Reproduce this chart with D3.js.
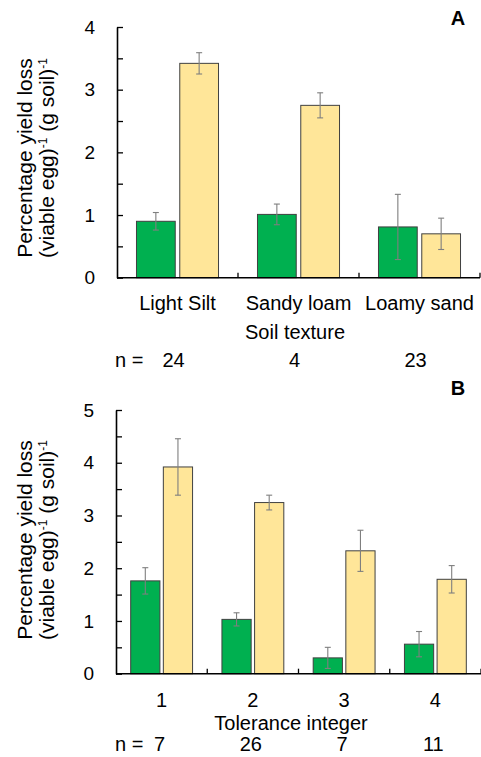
<!DOCTYPE html>
<html>
<head>
<meta charset="utf-8">
<script src="https://cdn.jsdelivr.net/npm/d3@7"></script>
<style>
  body { margin: 0; background: #fff; }
  svg { display: block; font-family: "Liberation Sans", Arial, sans-serif; }
</style>
</head>
<body>
<svg id="chart" width="481" height="757"></svg>
<script>
// Panel A - soil texture
const soilCategories = ["Light Silt", "Sandy loam", "Loamy sand"];
const soilGreen = [0.90, 1.01, 0.81];
const soilGreenErr = [0.14, 0.165, 0.52];
const soilYellow = [3.42, 2.75, 0.70];
const soilYellowErr = [0.17, 0.20, 0.25];
const soilN = [24, 4, 23];
const soilTicks = [0, 1, 2, 3, 4];

// Panel B - tolerance integer
const tolCategories = ["1", "2", "3", "4"];
const tolGreen = [1.76, 1.03, 0.30, 0.56];
const tolGreenErr = [0.25, 0.125, 0.20, 0.24];
const tolYellow = [3.92, 3.245, 2.33, 1.79];
const tolYellowErr = [0.535, 0.14, 0.39, 0.26];
const tolN = [7, 26, 7, 11];
const tolTicks = [0, 1, 2, 3, 4, 5];

const seriesNames = ["green", "yellow"];
const seriesColors = {"green": "#00B050", "yellow": "#FFE699"};

const svg = d3.select("#chart");

function drawPanel(opt) {
    const g = svg.append("g");

    const x = d3.scaleBand()
        .domain(opt.categories)
        .range([opt.left, opt.right])
        .paddingInner(0).paddingOuter(0);

    const xs = d3.scaleBand()
        .domain(seriesNames)
        .range([0, x.bandwidth()])
        .paddingInner(0.105).paddingOuter(0.45);

    const ymax = d3.max(opt.ticks);
    const y = d3.scaleLinear()
        .domain([0, ymax])
        .range([opt.bottom, opt.top]);

    // bars
    const rows = [];
    opt.categories.forEach((c, i) => {
        rows.push({cat: c, s: "green", v: opt.green[i], e: opt.greenErr[i]});
        rows.push({cat: c, s: "yellow", v: opt.yellow[i], e: opt.yellowErr[i]});
    });

    g.selectAll("rect.bar")
        .data(rows)
        .enter()
        .append("rect")
        .attr("class", "bar")
        .attr("x", d => x(d.cat) + xs(d.s))
        .attr("y", d => y(d.v))
        .attr("width", xs.bandwidth())
        .attr("height", d => y(0) - y(d.v))
        .attr("fill", d => seriesColors[d.s])
        .attr("stroke", "#404040")
        .attr("stroke-width", 1);

    // error bars
    const eb = g.selectAll("g.err")
        .data(rows)
        .enter()
        .append("g")
        .attr("class", "err")
        .attr("stroke", "#7f7f7f")
        .attr("stroke-width", 1.1);

    const cx = d => x(d.cat) + xs(d.s) + xs.bandwidth() / 2;
    eb.append("line")
        .attr("x1", cx).attr("x2", cx)
        .attr("y1", d => y(d.v + d.e)).attr("y2", d => y(d.v - d.e));
    eb.append("line")
        .attr("x1", d => cx(d) - 3).attr("x2", d => cx(d) + 3)
        .attr("y1", d => y(d.v + d.e)).attr("y2", d => y(d.v + d.e));
    eb.append("line")
        .attr("x1", d => cx(d) - 3).attr("x2", d => cx(d) + 3)
        .attr("y1", d => y(d.v - d.e)).attr("y2", d => y(d.v - d.e));

    // y axis, ticks pointing inwards
    const yAxis = d3.axisLeft(y)
        .tickValues(d3.range(0, ymax + 0.01, 0.5))
        .tickSizeInner(-6)
        .tickSizeOuter(0)
        .tickPadding(22)
        .tickFormat(d => Number.isInteger(d) ? d : "");

    const ya = g.append("g")
        .attr("transform", `translate(${opt.left},0)`)
        .call(yAxis);
    ya.select(".domain").attr("stroke", "#000").attr("stroke-width", 1.6);
    ya.selectAll(".tick line").attr("stroke", "#000").attr("stroke-width", 1.3);
    ya.selectAll(".tick text")
        .attr("font-size", 19)
        .attr("fill", "#000")
        .attr("font-family", "Liberation Sans, Arial, sans-serif");

    // x axis
    g.append("line")
        .attr("x1", opt.left).attr("x2", opt.right)
        .attr("y1", y(0)).attr("y2", y(0))
        .attr("stroke", "#000").attr("stroke-width", 1.6);

    const bounds = opt.categories.map(c => x(c) + x.bandwidth());
    g.selectAll("line.xtick")
        .data(bounds)
        .enter()
        .append("line")
        .attr("class", "xtick")
        .attr("x1", d => d).attr("x2", d => d)
        .attr("y1", y(0)).attr("y2", y(0) - 5)
        .attr("stroke", "#000").attr("stroke-width", 1.3);

    g.selectAll("text.xlab")
        .data(opt.categories)
        .enter()
        .append("text")
        .attr("class", "xlab")
        .attr("x", d => x(d) + x.bandwidth() / 2)
        .attr("y", y(0) + opt.labelDy)
        .attr("text-anchor", "middle")
        .attr("font-size", 20)
        .text(d => d);

    g.append("text")
        .attr("x", opt.titleX)
        .attr("y", y(0) + opt.titleDy)
        .attr("text-anchor", "middle")
        .attr("font-size", 20)
        .text(opt.xTitle);

    // n row
    g.append("text")
        .attr("x", 115)
        .attr("y", y(0) + opt.nDy)
        .attr("font-size", 20)
        .text("n =");
    g.selectAll("text.nlab")
        .data(opt.n)
        .enter()
        .append("text")
        .attr("class", "nlab")
        .attr("x", (d, i) => x(opt.categories[i]) + x.bandwidth() / 2 + opt.nShift)
        .attr("y", y(0) + opt.nDy)
        .attr("text-anchor", "middle")
        .attr("font-size", 20)
        .text(d => d);

    // y title
    const cy = opt.yTitleCenter;
    g.append("text")
        .attr("transform", `translate(32,${cy}) rotate(-90)`)
        .attr("text-anchor", "middle")
        .attr("font-size", 21)
        .text("Percentage yield loss");
    const t2 = g.append("text")
        .attr("transform", `translate(54,${cy}) rotate(-90)`)
        .attr("text-anchor", "middle")
        .attr("font-size", 21);
    t2.append("tspan").text("(viable egg)");
    t2.append("tspan").attr("font-size", 12).attr("dy", -7).text("-1");
    t2.append("tspan").attr("dy", 7).text(" (g soil)");
    t2.append("tspan").attr("font-size", 12).attr("dy", -7).text("-1");

    // panel letter
    g.append("text")
        .attr("x", 458)
        .attr("y", opt.letterY)
        .attr("text-anchor", "middle")
        .attr("font-size", 20)
        .attr("font-weight", "bold")
        .text(opt.letter);
}

drawPanel({
    categories: soilCategories,
    green: soilGreen, greenErr: soilGreenErr,
    yellow: soilYellow, yellowErr: soilYellowErr,
    n: soilN, ticks: soilTicks,
    left: 117, right: 480, top: 27, bottom: 277.7,
    labelDy: 32, titleDy: 61, nDy: 89,
    xTitle: "Soil texture", titleX: 295,
    nShift: -4,
    yTitleCenter: 158,
    letter: "A", letterY: 25
});

drawPanel({
    categories: tolCategories,
    green: tolGreen, greenErr: tolGreenErr,
    yellow: tolYellow, yellowErr: tolYellowErr,
    n: tolN, ticks: tolTicks,
    left: 116, right: 481, top: 410, bottom: 673.7,
    labelDy: 33, titleDy: 56, nDy: 77,
    xTitle: "Tolerance integer", titleX: 291,
    nShift: -2,
    yTitleCenter: 540,
    letter: "B", letterY: 395
});
</script>
</body>
</html>
